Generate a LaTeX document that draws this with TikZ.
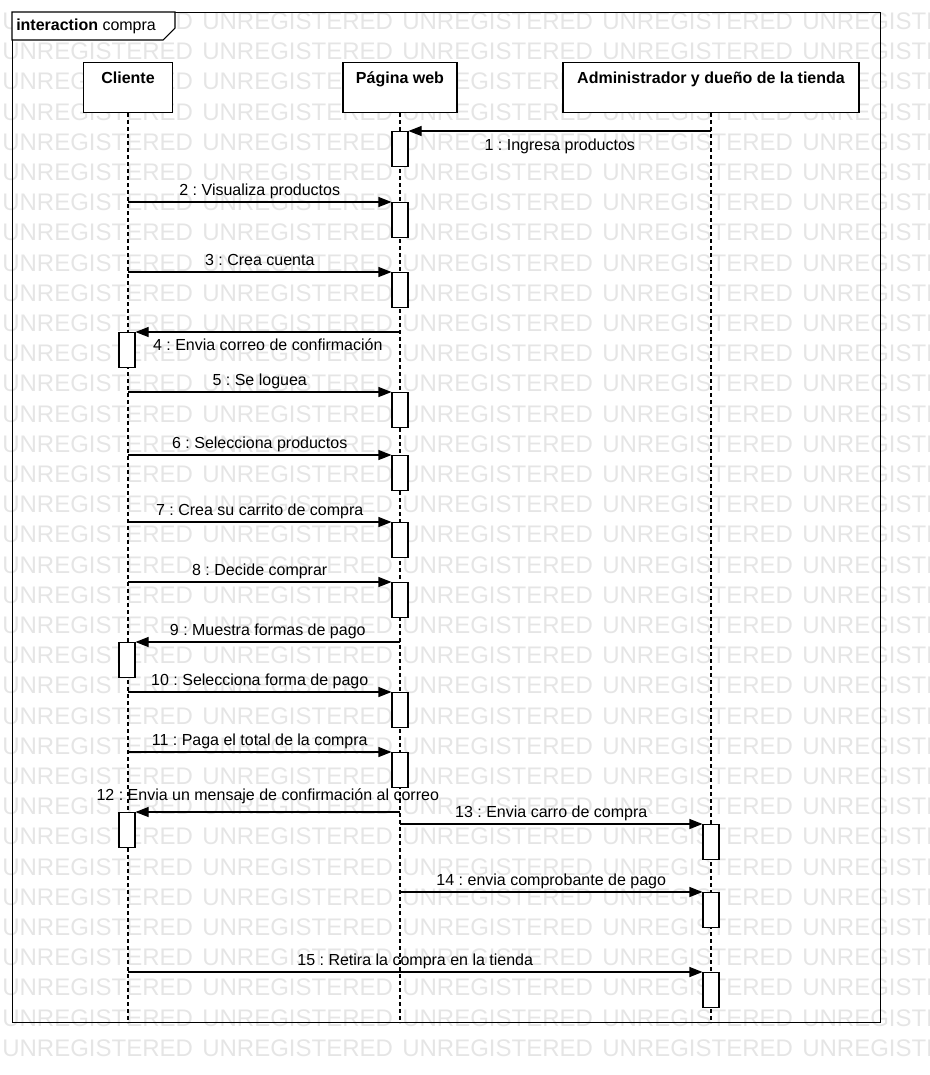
\documentclass[tikz,border=0pt]{standalone}
\usepackage{fontspec}
\setmainfont{Liberation Sans}
\usetikzlibrary{arrows.meta}
\frenchspacing

\begin{document}
\begin{tikzpicture}[x=0.75pt,y=-0.75pt,
		every node/.style={font=\fontsize{12}{14}\selectfont},
		wm/.style={text=black!10,font=\fontsize{18}{20}\selectfont,inner sep=0pt,anchor=base west},
		box/.style={draw,fill=white,line width=0.8pt,inner xsep=0pt,inner ysep=0pt,text height=15.75pt,text depth=21.75pt,font=\fontsize{12}{14}\selectfont\bfseries,anchor=north},
		act/.style={draw,fill=white,line width=0.8pt,minimum width=12pt,minimum height=26.25pt,inner sep=0pt,anchor=north},
		lifeline/.style={line width=0.8pt,dash pattern=on 3pt off 2.25pt},
		msg/.style={line width=0.8pt,-{Triangle[length=9.75pt,width=7.5pt]}},
		lbl/.style={inner sep=0pt,anchor=base}]
	\useasboundingbox (0,0) rectangle (930,1075);
	\begin{scope}
		\clip (0,0) rectangle (930,1075);
		\foreach \r in {0,...,34}
			\foreach \c in {0,...,4}
				\node[wm] (wm-\r-\c) at ({2+200*\c},{29.5+30.2*\r}) {UNREGISTERED};
	\end{scope}

	\node[draw,line width=0.8pt,minimum width=651pt,minimum height=757.5pt,inner sep=0pt,anchor=north west] (frame) at (12,12) {};
	\draw[line width=0.8pt,fill=white] (frame.north west) -- ++(163,0) -- ++(0,16) -- ++(-12,12) -- ++(-151,0) -- cycle;
	\node[anchor=base west,inner sep=0pt] (title) at (16,30) {\textbf{interaction} compra};

	\node[box,minimum width=66.75pt] (cli) at (128,62) {Cliente};
	\node[box,minimum width=85.5pt] (web) at (400,62) {Página web};
	\node[box,minimum width=222pt] (adm) at (711,62) {Administrador y dueño de la tienda};

	\draw[lifeline] (cli.south) -- (cli.south |- frame.south);
	\draw[lifeline] (web.south) -- (web.south |- frame.south);
	\draw[lifeline] (adm.south) -- (adm.south |- frame.south);

	\foreach \n/\x/\y in {1/400/131,2/400/202,3/400/272,4/127/332,5/400/392,6/400/455,7/400/522,8/400/582,
			9/127/642,10/400/692,11/400/752,12/127/812,13/711/824,14/711/892,15/711/972}
		\node[act] (a\n) at (\x,\y) {};

	\draw[msg] (adm |- a1.north) -- (a1.north east) node[lbl,midway,yshift=-14.25pt] {1 : Ingresa productos};
	\draw[msg] (cli |- a2.north) -- (a2.north west) node[lbl,midway,yshift=5.25pt] {2 : Visualiza productos};
	\draw[msg] (cli |- a3.north) -- (a3.north west) node[lbl,midway,yshift=5.25pt] {3 : Crea cuenta};
	\draw[msg] (web |- a4.north) -- (a4.north east) node[lbl,midway,yshift=-13.5pt] {4 : Envia correo de confirmación};
	\draw[msg] (cli |- a5.north) -- (a5.north west) node[lbl,midway,yshift=5.25pt] {5 : Se loguea};
	\draw[msg] (cli |- a6.north) -- (a6.north west) node[lbl,midway,yshift=5.25pt] {6 : Selecciona productos};
	\draw[msg] (cli |- a7.north) -- (a7.north west) node[lbl,midway,yshift=5.25pt] {7 : Crea su carrito de compra};
	\draw[msg] (cli |- a8.north) -- (a8.north west) node[lbl,midway,yshift=5.25pt] {8 : Decide comprar};
	\draw[msg] (web |- a9.north) -- (a9.north east) node[lbl,midway,yshift=5.25pt] {9 : Muestra formas de pago};
	\draw[msg] (cli |- a10.north) -- (a10.north west) node[lbl,midway,yshift=5.25pt] {10 : Selecciona forma de pago};
	\draw[msg] (cli |- a11.north) -- (a11.north west) node[lbl,midway,yshift=5.25pt] {11 : Paga el total de la compra};
	\draw[msg] (web |- a12.north) -- (a12.north east) node[lbl,midway,yshift=8.7pt] {12 : Envia un mensaje de confirmación al correo};
	\draw[msg] (web |- a13.north) -- (a13.north west) node[lbl,midway,yshift=5.25pt] {13 : Envia carro de compra};
	\draw[msg] (web |- a14.north) -- (a14.north west) node[lbl,midway,yshift=5.25pt] {14 : envia comprobante de pago};
	\draw[msg] (cli |- a15.north) -- (a15.north west) node[lbl,midway,yshift=5.25pt] {15 : Retira la compra en la tienda};
\end{tikzpicture}
\end{document}
